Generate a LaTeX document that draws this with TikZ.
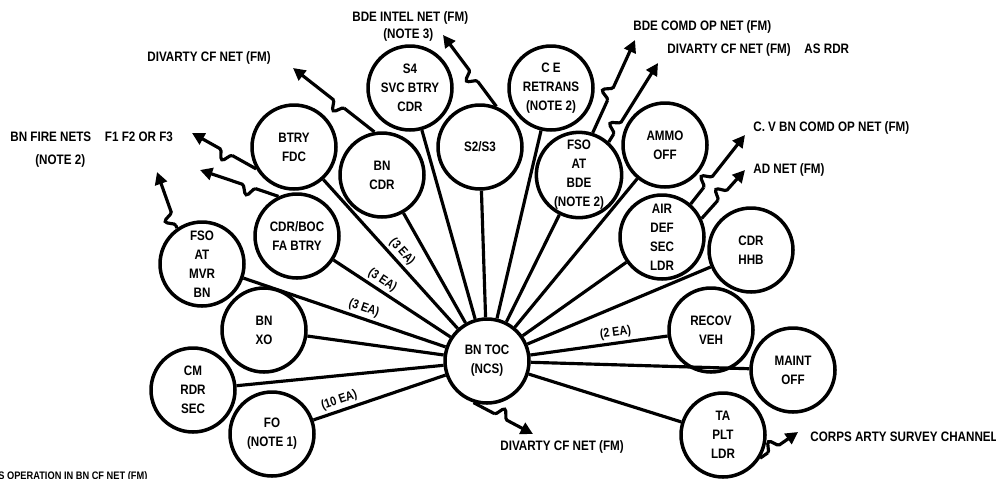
\documentclass[tikz,border=0pt]{standalone}
\usepackage{fontspec}
\setmainfont{Liberation Sans}[FakeStretch=0.85]
\usetikzlibrary{arrows.meta,calc,decorations.pathmorphing}

% net arrow with one squiggle: [where the squiggle starts]{from}{tip}
\newcommand{\netarrow}[3][0.35]{%
  \draw[net] (#2) -- ($(#2)!#1!(#3)$)
    decorate{($(#2)!#1!(#3)$) -- ($(#2)!#1!(#3)!14pt!(#3)$)} -- (#3);}

\begin{document}
\begin{tikzpicture}[
  x=0.02cm, y=-0.02cm,
  every node/.style={font=\bfseries\fontsize{7.8}{10.8}\selectfont, align=center},
  unit/.style={circle, draw, fill=white, line width=2pt, minimum size=1.68cm, inner sep=0pt},
  spoke/.style={line width=1.8pt},
  ea/.style={sloped, above, inner sep=1.5pt, font=\bfseries\fontsize{7.2}{8}\selectfont},
  lbl/.style={inner sep=0pt, anchor=west},
  net/.style={line width=1.8pt, -{Triangle[length=7pt,width=7pt]},
    decoration={snake, amplitude=5pt, segment length=13pt}}
]
  \path[use as bounding box, fill=white] (0,0) rectangle (996,478);

  % Nodes
  \node (toc) [unit] at (487,361) {BN TOC\\(NCS)};
  \node (fdc) [unit] at (294,147) {BTRY\\FDC};
  \node (boc) [unit] at (297,236) {CDR/BOC\\FA BTRY};
  \node (fsomvr) [unit] at (202,264) {FSO\\AT\\MVR\\BN};
  \node (bnxo) [unit] at (264,330) {BN\\XO};
  \node (cmrdr) [unit] at (193,390) {CM\\RDR\\SEC};
  \node (fo) [unit] at (272,434) {FO\\(NOTE 1)};
  \node (bncdr) [unit] at (382,175) {BN\\CDR};
  \node (sfour) [unit] at (410,88) {S4\\SVC BTRY\\CDR};
  \node (stwo) [unit] at (480,147) {S2/S3};
  \node (retrans) [unit] at (551,88) {C E\\RETRANS\\(NOTE 2)};
  \node (fsobde) [unit] at (579,175) {FSO\\AT\\BDE\\(NOTE 2)};
  \node (ammo) [unit] at (665,145) {AMMO\\OFF};
  \node (airdef) [unit] at (662,237) {AIR\\DEF\\SEC\\LDR};
  \node (hhb) [unit] at (751,250) {CDR\\HHB};
  \node (recov) [unit] at (711,330) {RECOV\\VEH};
  \node (maint) [unit] at (793,370) {MAINT\\OFF};
  \node (taplt) [unit] at (723,435) {TA\\PLT\\LDR};

  % Outside nets
  \coordinate (tdiv) at (293,68);
  \coordinate (tfa) at (192,133);
  \coordinate (tfb) at (200,170);
  \coordinate (tfc) at (157,172);
  \coordinate (tintel) at (443,35);
  \coordinate (tcomd) at (635,40);
  \coordinate (tdivrdr) at (658,63);
  \coordinate (tcv) at (745,135);
  \coordinate (tad) at (745,170);
  \coordinate (tdivtoc) at (533,434);
  \coordinate (tcorps) at (798,432);

  \node (lbldiv) [lbl] at (147,58) {DIVARTY CF NET (FM)};
  \node (lblfire) [lbl] at (10,137) {BN FIRE NETS\quad F1 F2 OR F3};
  \node (lblnote) [lbl] at (35,161) {(NOTE 2)};
  \node (lblintel) [lbl] at (352,18) {BDE INTEL NET (FM)};
  \node (lblnotethree) [lbl] at (383,35) {(NOTE 3)};
  \node (lblcomd) [lbl] at (633,27) {BDE COMD OP NET (FM)};
  \node (lbldivrdr) [lbl] at (667,50) {DIVARTY CF NET (FM)\quad AS RDR};
  \node (lblcv) [lbl] at (753,128) {C. V BN COMD OP NET (FM)};
  \node (lblad) [lbl] at (753,170) {AD NET (FM)};
  \node (lbldivtoc) [lbl] at (500,447) {DIVARTY CF NET (FM)};
  \node (lblcorps) [lbl] at (810,437) {CORPS ARTY SURVEY CHANNEL};
  \node (lblop) [inner sep=0pt, anchor=north west, font=\bfseries\fontsize{6.2}{7}\selectfont]
    at (-2,471) {S OPERATION IN BN CF NET (FM)};

  % Spokes
  \draw [spoke] (fdc) -- node[ea, pos=0.53] {(3 EA)} (toc);
  \draw [spoke] (boc) -- node[ea, pos=0.37] {(3 EA)} (toc);
  \draw [spoke] (fsomvr) -- node[ea, pos=0.58] {(3 EA)} (toc);
  \draw [spoke] (bnxo) -- (toc);
  \draw [spoke] (cmrdr) -- (toc);
  \draw [spoke] (fo) -- node[ea, pos=0.22] {(10 EA)} (toc);
  \draw [spoke] (bncdr) -- (toc);
  \draw [spoke] (sfour) -- (toc);
  \draw [spoke] (stwo) -- (toc);
  \draw [spoke] (retrans) -- (toc);
  \draw [spoke] (fsobde) -- (toc);
  \draw [spoke] (ammo) -- (toc);
  \draw [spoke] (airdef) -- (toc);
  \draw [spoke] (hhb) -- (toc);
  \draw [spoke] (toc) -- node[ea, pos=0.63] {(2 EA)} (recov);
  \draw [spoke] (maint) -- (toc);
  \draw [spoke] (taplt) -- (toc);

  % Nets
  \netarrow[0.37]{bncdr.100}{tdiv}
  \netarrow[0.37]{fdc.210}{tfa}
  \netarrow[0.29]{boc.115}{tfb}
  \netarrow[0.05]{fsomvr.125}{tfc}
  \netarrow[0.35]{stwo.68}{tintel}
  \netarrow[0.35]{fsobde.72}{tcomd}
  \netarrow[0.1]{fsobde.48}{tdivrdr}
  \netarrow[0.24]{airdef.49}{tcv}
  \netarrow[0.37]{airdef.25}{tad}
  \netarrow[0.35]{toc.252}{tdivtoc}
  \netarrow[0.2]{taplt.328}{tcorps}
\end{tikzpicture}
\end{document}
